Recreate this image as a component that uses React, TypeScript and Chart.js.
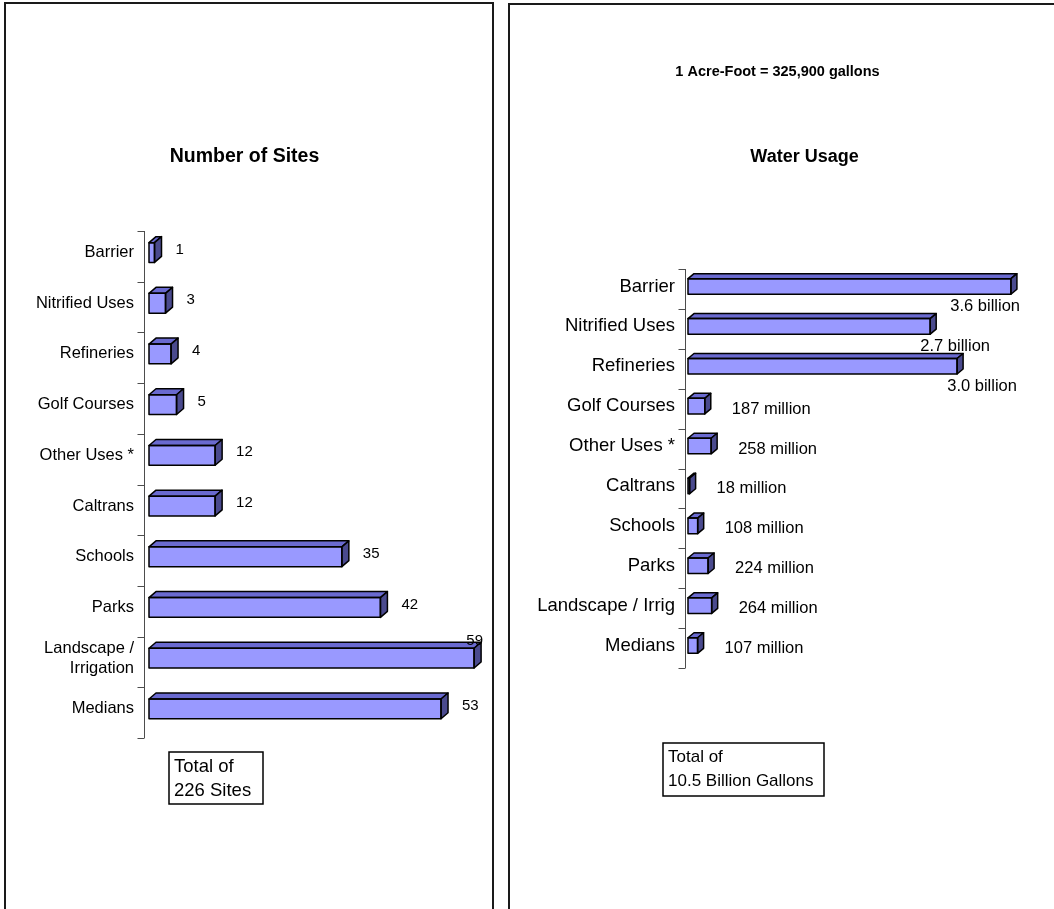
import React, { useEffect, useRef } from 'react';
import { Chart, registerables } from 'chart.js';

Chart.register(...registerables);

const FONT = '"Liberation Sans", Arial, Helvetica, sans-serif';

// ---------- Left chart: Number of Sites ----------
const siteCategories: (string | string[])[] = [
  'Barrier',
  'Nitrified Uses',
  'Refineries',
  'Golf Courses',
  'Other Uses *',
  'Caltrans',
  'Schools',
  'Parks',
  ['Landscape /', 'Irrigation'],
  'Medians',
];
const siteCounts = [1, 3, 4, 5, 12, 12, 35, 42, 59, 53];
const siteValueLabels = ['1', '3', '4', '5', '12', '12', '35', '42', '59', '53'];
const siteAxisMax = 60;
const siteTitle = 'Number of Sites';
const siteTotalLines = ['Total of', '226 Sites'];

// ---------- Right chart: Water Usage (millions of gallons) ----------
const waterCategories = [
  'Barrier',
  'Nitrified Uses',
  'Refineries',
  'Golf Courses',
  'Other Uses *',
  'Caltrans',
  'Schools',
  'Parks',
  'Landscape / Irrig',
  'Medians',
];
const waterMillions = [3600, 2700, 3000, 187, 258, 18, 108, 224, 264, 107];
const waterValueLabels = [
  '3.6 billion',
  '2.7 billion',
  '3.0 billion',
  '187 million',
  '258 million',
  '18 million',
  '108 million',
  '224 million',
  '264 million',
  '107 million',
];
const waterAxisMax = 4000;
const waterNote = '1 Acre-Foot = 325,900 gallons';
const waterTitle = 'Water Usage';
const waterTotalLines = ['Total of', '10.5 Billion Gallons'];

const FRONT = '#9999FF';
const TOP = '#6A6AD0';
const SIDE = '#4A4A8E';

const threeD = {
  id: 'threeD',
  beforeDatasetsDraw(chart: any, _args: any, opts: any) {
    const ctx = chart.ctx;
    const { left, top, bottom } = chart.chartArea;
    const n = chart.data.labels.length;
    const band = (bottom - top) / n;
    const ax = Math.round(left - opts.axisGap) + 0.5;
    ctx.save();
    ctx.strokeStyle = '#4d4d4d';
    ctx.lineWidth = 1;
    ctx.beginPath();
    ctx.moveTo(ax, top + opts.tickShift);
    ctx.lineTo(ax, bottom + opts.tickShift);
    for (let i = 0; i <= n; i++) {
      const y = Math.round(top + i * band + opts.tickShift) + 0.5;
      ctx.moveTo(ax - 7, y);
      ctx.lineTo(ax, y);
    }
    ctx.stroke();
    ctx.restore();
  },
  afterDatasetsDraw(chart: any, _args: any, opts: any) {
    const ctx = chart.ctx;
    const meta = chart.getDatasetMeta(0);
    const { dx, dy } = opts;
    const area = chart.chartArea;
    ctx.save();
    ctx.lineWidth = 1.5;
    ctx.strokeStyle = '#000';
    ctx.lineJoin = 'round';
    meta.data.forEach((bar: any) => {
      const { x, y, base, height } = bar.getProps(['x', 'y', 'base', 'height'], true);
      const l = Math.min(base, x);
      const r = Math.max(base, x);
      const t = y - height / 2;
      const b = y + height / 2;
      // top face
      ctx.beginPath();
      ctx.moveTo(l, t);
      ctx.lineTo(l + dx, t - dy);
      ctx.lineTo(r + dx, t - dy);
      ctx.lineTo(r, t);
      ctx.closePath();
      ctx.fillStyle = TOP;
      ctx.fill();
      ctx.stroke();
      // side face
      ctx.beginPath();
      ctx.moveTo(r, t);
      ctx.lineTo(r + dx, t - dy);
      ctx.lineTo(r + dx, b - dy);
      ctx.lineTo(r, b);
      ctx.closePath();
      ctx.fillStyle = SIDE;
      ctx.fill();
      ctx.stroke();
      // front outline
      ctx.strokeRect(l, t, r - l, b - t);
    });

    // value labels
    ctx.fillStyle = '#000';
    ctx.font = `${opts.labelSize}px ${FONT}`;
    ctx.textBaseline = 'middle';
    meta.data.forEach((bar: any, i: number) => {
      const text = opts.valueLabels[i];
      const { x, y, base, height } = bar.getProps(['x', 'y', 'base', 'height'], true);
      const l = Math.min(base, x);
      const r = Math.max(base, x);
      const t = y - height / 2;
      const w = ctx.measureText(text).width;
      let lx = r + dx + opts.labelGap;
      let ly = y + opts.labelDy;
      if (opts.overflow === 'above') {
        if (lx + w > chart.width - 6) {
          lx = chart.width - 9 - w;
          ly = t - 7;
        }
      } else if (r - l > (area.right - area.left) / 2) {
        // long bars: label sits below the bar, near its end
        const cx = Math.min(r + 25, chart.width - w / 2 - 34);
        lx = cx - w / 2;
        ly = y + 20;
      }
      ctx.textAlign = 'left';
      ctx.fillText(text, lx, ly);
    });
    ctx.restore();
  },
  afterDraw(chart: any, _args: any, opts: any) {
    const ctx = chart.ctx;
    ctx.save();
    ctx.fillStyle = '#000';
    ctx.textBaseline = 'middle';
    (opts.texts || []).forEach((tx: any) => {
      ctx.font = `${tx.bold ? 'bold ' : ''}${tx.size}px ${FONT}`;
      ctx.textAlign = tx.align || 'center';
      ctx.fillText(tx.text, tx.x, tx.y);
    });
    const bx = opts.box;
    if (bx) {
      ctx.strokeStyle = '#000';
      ctx.lineWidth = 1.5;
      ctx.strokeRect(bx.x, bx.y, bx.w, bx.h);
      ctx.font = `${bx.size}px ${FONT}`;
      ctx.textAlign = 'left';
      bx.lines.forEach((line: string, i: number) => {
        ctx.fillText(line, bx.x + 5, bx.y + bx.firstLine + i * bx.lineStep);
      });
    }
    ctx.restore();
  },
};

function makeConfig(p: any): any {
  return {
    type: 'bar',
    data: {
      labels: p.labels,
      datasets: [
        {
          data: p.values,
          backgroundColor: FRONT,
          borderColor: '#000',
          borderWidth: 0,
          borderSkipped: false,
          barPercentage: 0.39,
          categoryPercentage: 1,
        },
      ],
    },
    options: {
      animation: false,
      responsive: false,
      indexAxis: 'y',
      layout: { padding: p.padding },
      scales: {
        x: { type: 'linear', min: 0, max: p.max, display: false },
        y: {
          type: 'category',
          grid: { display: false, drawTicks: false },
          border: { display: false },
          ticks: {
            color: '#000',
            padding: p.tickPadding,
            autoSkip: false,
            font: { family: FONT, size: p.tickSize },
          },
          afterFit: (scale: any) => {
            scale.width = p.axisWidth;
          },
        },
      },
      plugins: {
        legend: { display: false },
        tooltip: { enabled: false },
        title: { display: false },
        threeD: p.threeD,
      },
    },
    plugins: [threeD],
  };
}

export default function App() {
  const leftRef = useRef<HTMLCanvasElement>(null);
  const rightRef = useRef<HTMLCanvasElement>(null);

  useEffect(() => {
    const left = new Chart(
      leftRef.current as HTMLCanvasElement,
      makeConfig({
        labels: siteCategories,
        values: siteCounts,
        max: siteAxisMax,
        padding: { top: 223.2, bottom: 174.8, left: 0, right: 12.4 },
        axisWidth: 143,
        tickPadding: 15,
        tickSize: 16.5,
        threeD: {
          dx: 7,
          dy: 6,
          axisGap: 5,
          tickShift: 3.8,
          labelSize: 15,
          labelGap: 14,
          labelDy: -3,
          overflow: 'above',
          valueLabels: siteValueLabels,
          texts: [{ text: siteTitle, x: 238.5, y: 153, size: 19.5, bold: true }],
          box: { x: 163, y: 748, w: 94, h: 52, size: 18.5, lines: siteTotalLines, firstLine: 15, lineStep: 24 },
        },
      })
    );
    const right = new Chart(
      rightRef.current as HTMLCanvasElement,
      makeConfig({
        labels: waterCategories,
        values: waterMillions,
        max: waterAxisMax,
        padding: { top: 261.5, bottom: 243.5, left: 0, right: 7.2 },
        axisWidth: 178,
        tickPadding: 13,
        tickSize: 18.5,
        threeD: {
          dx: 6,
          dy: 5,
          axisGap: 3,
          tickShift: 2.5,
          labelSize: 16.5,
          labelGap: 21,
          labelDy: 3,
          overflow: 'below',
          valueLabels: waterValueLabels,
          texts: [
            { text: waterNote, x: 267.5, y: 67, size: 14.5, bold: true },
            { text: waterTitle, x: 294.5, y: 152, size: 18, bold: true },
          ],
          box: { x: 153, y: 738, w: 161, h: 53, size: 17, lines: waterTotalLines, firstLine: 14, lineStep: 24 },
        },
      })
    );
    return () => {
      left.destroy();
      right.destroy();
    };
  }, []);

  return (
    <div style={{ position: 'fixed', left: 0, top: 0, width: '100vw', height: '100vh', overflow: 'hidden', background: '#fff' }}>
      <div
        style={{
          position: 'absolute',
          left: 4,
          top: 2,
          width: 490,
          height: 1000,
          border: '2px solid #1a1a1a',
          boxSizing: 'border-box',
        }}
      >
        <canvas
          ref={leftRef}
          width={486}
          height={905}
          style={{ position: 'absolute', left: 0, top: 0, width: 486, height: 905, display: 'block' }}
        />
      </div>
      <div
        style={{
          position: 'absolute',
          left: 508,
          top: 3,
          width: 700,
          height: 1000,
          border: '2px solid #1a1a1a',
          boxSizing: 'border-box',
        }}
      >
        <canvas
          ref={rightRef}
          width={544}
          height={904}
          style={{ position: 'absolute', left: 0, top: 0, width: 544, height: 904, display: 'block' }}
        />
      </div>
    </div>
  );
}
